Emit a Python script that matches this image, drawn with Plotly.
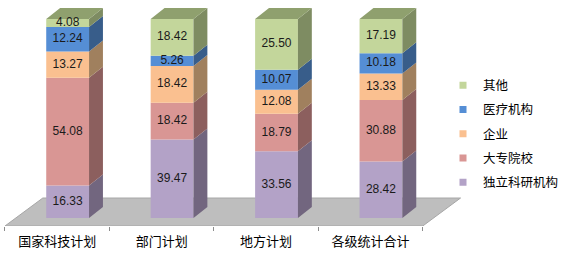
import plotly.graph_objects as go

categories = ["国家科技计划", "部门计划", "地方计划", "各级统计合计"]
series_names = ["独立科研机构", "大专院校", "企业", "医疗机构", "其他"]
values = {
    "独立科研机构": [16.33, 39.47, 33.56, 28.42],
    "大专院校": [54.08, 18.42, 18.79, 30.88],
    "企业": [13.27, 18.42, 12.08, 13.33],
    "医疗机构": [12.24, 5.26, 10.07, 10.18],
    "其他": [4.08, 18.42, 25.50, 17.19],
}
front_colors = {
    "独立科研机构": "#B3A2C7",
    "大专院校": "#D99694",
    "企业": "#FAC090",
    "医疗机构": "#558ED5",
    "其他": "#C3D69B",
}
side_colors = {
    "独立科研机构": "#72667F",
    "大专院校": "#8C5F5E",
    "企业": "#A0805E",
    "医疗机构": "#385D8A",
    "其他": "#7E8C62",
}
top_colors = {
    "其他": "#8FA06E",
}

# geometry (style) constants
SHIFT = 0.1      # bars sit a bit behind the floor front edge
WIDTH = 0.41
DX = 0.133       # depth offset in x units
DY = 5.52        # depth offset in y units
FLOOR_Y0 = -4
FLOOR_Y1 = 10.05
FLOOR_DX = 0.362

n = len(categories)
xb = [i + SHIFT for i in range(n)]

fig = go.Figure()

# floor
fx0, fx1 = -0.5, n - 0.5
floor_path = (f"M {fx0},{FLOOR_Y0} L {fx1},{FLOOR_Y0} L {fx1+FLOOR_DX},{FLOOR_Y1} "
              f"L {fx0+FLOOR_DX},{FLOOR_Y1} Z")
fig.add_shape(type="path", path=floor_path, xref="x", yref="y", layer="below",
              fillcolor="#BEBEBE", line=dict(color="#A6A6A6", width=1))

cum = [0.0] * n
label_x, label_y, label_t = [], [], []
for name in series_names:
    v = values[name]
    fig.add_trace(go.Bar(
        x=xb, y=v, base=cum[:], width=WIDTH,
        marker=dict(color=front_colors[name], line=dict(width=0)),
        showlegend=False, hoverinfo="skip",
    ))
    # side faces
    sx, sy = [], []
    for i in range(n):
        xr = xb[i] + WIDTH / 2
        y0, y1 = cum[i], cum[i] + v[i]
        sx += [xr, xr + DX, xr + DX, xr, xr, None]
        sy += [y0, y0 + DY, y1 + DY, y1, y0, None]
        label_x.append(xb[i])
        label_y.append(y0 + v[i] / 2)
        label_t.append(f"{v[i]:.2f}")
    fig.add_trace(go.Scatter(
        x=sx, y=sy, mode="lines", fill="toself", fillcolor=side_colors[name],
        line=dict(width=0, color=side_colors[name]), showlegend=False, hoverinfo="skip",
    ))
    cum = [cum[i] + v[i] for i in range(n)]

# top faces
top_name = series_names[-1]
tx, ty = [], []
for i in range(n):
    xl, xr = xb[i] - WIDTH / 2, xb[i] + WIDTH / 2
    t = cum[i]
    tx += [xl, xl + DX, xr + DX, xr, xl, None]
    ty += [t, t + DY, t + DY, t, t, None]
fig.add_trace(go.Scatter(
    x=tx, y=ty, mode="lines", fill="toself", fillcolor=top_colors[top_name],
    line=dict(width=0, color=top_colors[top_name]), showlegend=False, hoverinfo="skip",
))

# value labels
fig.add_trace(go.Scatter(
    x=label_x, y=label_y, mode="text", text=label_t,
    textfont=dict(family="Liberation Sans, Arial", size=12, color="#1a1a1a"),
    showlegend=False, hoverinfo="skip",
))

# legend entries
for name in reversed(series_names):
    fig.add_trace(go.Scatter(
        x=[None], y=[None], mode="markers", name=name, legendgroup=name,
        marker=dict(symbol="square", size=7, color=front_colors[name]),
    ))

fig.update_layout(
    width=564, height=276,
    margin=dict(l=0, r=0, t=7, b=50),
    paper_bgcolor="white", plot_bgcolor="rgba(0,0,0,0)",
    barmode="overlay",
    showlegend=True,
    legend=dict(
        x=0.79, y=0.71, xanchor="left", yanchor="top",
        font=dict(family="Noto Sans CJK SC", size=12.5, color="#000"),
        tracegroupgap=5, bgcolor="rgba(0,0,0,0)",
    ),
    font=dict(family="Noto Sans CJK SC", color="#000"),
)
fig.update_xaxes(
    range=[-57.5 / 105, (564 - 57.5) / 105],
    tickmode="array", tickvals=list(range(n)), ticktext=categories,
    ticks="", showgrid=False, zeroline=False, showline=False,
    ticklabelstandoff=6,
    tickfont=dict(family="Noto Sans CJK SC", size=13, color="#000"),
    minor=dict(tickmode="array", tickvals=[i - 0.5 for i in range(n + 1)],
               ticks="outside", ticklen=4, tickcolor="#8C8C8C", tickwidth=1, showgrid=False),
    fixedrange=True,
)
fig.update_yaxes(
    range=[-4, 106], visible=False, showgrid=False, zeroline=False, fixedrange=True,
)

fig.write_html("out.html")
